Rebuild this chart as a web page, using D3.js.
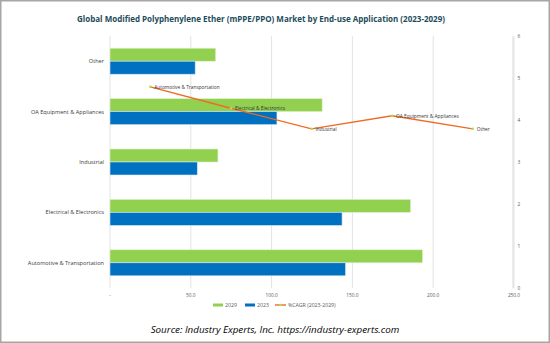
<!DOCTYPE html>
<html>
<head>
<meta charset="utf-8">
<script src="https://cdn.jsdelivr.net/npm/d3@7"></script>
<style>
  body { margin: 0; background: #fff; }
  svg text { font-family: "Open Sans", "Liberation Sans", sans-serif; }
</style>
</head>
<body>
<div id="chart"></div>
<script>
// market size by end-use application, two years, plus CAGR on a second axis
var categories = ["Automotive & Transportation", "Electrical & Electronics", "Industrial", "OA Equipment & Appliances", "Other"];
var values2029 = [193.4, 186.0, 66.8, 131.3, 65.4];
var values2023 = [145.7, 143.6, 54.0, 103.3, 52.7];
var cagr = [4.79, 4.28, 3.79, 4.10, 3.79];
var xTicks = [0, 50, 100, 150, 200, 250];
var yTicksRight = [0, 1, 2, 3, 4, 5, 6];

var width = 550, height = 343;
var margin = {top: 36, right: 37, bottom: 55, left: 110};
var innerW = width - margin.left - margin.right;
var innerH = height - margin.top - margin.bottom;

var svg = d3.select("#chart").append("svg")
  .attr("width", width)
  .attr("height", height);

// outer frame
svg.append("rect")
  .attr("x", 0.75).attr("y", 0.75)
  .attr("width", width - 1.5).attr("height", height - 1.5)
  .attr("fill", "#fff")
  .attr("stroke", "#a6a6a6")
  .attr("stroke-width", 1.5);

svg.append("text")
  .attr("x", 261).attr("y", 22)
  .attr("text-anchor", "middle")
  .attr("font-size", 8)
  .attr("font-weight", "bold")
  .attr("fill", "#234c5a")
  .text("Global Modified Polyphenylene Ether (mPPE/PPO) Market by End-use Application (2023-2029)");

var g = svg.append("g").attr("transform", "translate(" + margin.left + "," + margin.top + ")");

var x = d3.scaleLinear().domain([0, 250]).range([0, 404]);
// bottom category first, so reverse the band order
var y = d3.scaleBand().domain(categories.slice().reverse()).range([0, innerH]);
var yRight = d3.scaleLinear().domain([0, 6]).range([innerH, 0]);
var xCat = d3.scaleBand().domain(categories).range([0, innerW]);

// vertical gridlines
g.selectAll(".grid")
  .data(xTicks)
  .enter()
  .append("line")
  .attr("class", "grid")
  .attr("x1", d => x(d)).attr("x2", d => x(d))
  .attr("y1", 0).attr("y2", innerH)
  .attr("stroke", "#e3e3e3")
  .attr("stroke-width", 1);

// bottom axis labels
g.selectAll(".xlab")
  .data(xTicks)
  .enter()
  .append("text")
  .attr("class", "xlab")
  .attr("x", d => x(d))
  .attr("y", innerH + 9)
  .attr("text-anchor", "middle")
  .attr("font-size", 4.8)
  .attr("fill", "#595959")
  .text(d => d === 0 ? "-" : d3.format(".1f")(d));

// right axis
var rightAxis = g.append("g")
  .attr("transform", "translate(" + (innerW - 0.5) + ",0)")
  .call(d3.axisRight(yRight).tickValues(yTicksRight).tickSize(0).tickPadding(5).tickFormat(d3.format("d")));
rightAxis.select(".domain").attr("stroke", "#d9d9d9");
rightAxis.selectAll("text").attr("font-size", 4.8).attr("fill", "#595959");

// category labels
g.selectAll(".catlab")
  .data(categories)
  .enter()
  .append("text")
  .attr("class", "catlab")
  .attr("x", -6)
  .attr("y", d => y(d) + y.bandwidth() / 2 + 2)
  .attr("text-anchor", "end")
  .attr("font-size", 5.6)
  .attr("fill", "#3a3a3a")
  .text(d => d);

var barH = 13;
var rows = categories.map((c, i) => ({cat: c, v29: values2029[i], v23: values2023[i], cagr: cagr[i]}));

g.selectAll(".bar29")
  .data(rows)
  .enter()
  .append("rect")
  .attr("class", "bar29")
  .attr("x", x(0))
  .attr("y", d => y(d.cat) + y.bandwidth() / 2 - barH)
  .attr("width", d => x(d.v29) - x(0))
  .attr("height", barH)
  .attr("fill", "#92d050")
  .attr("stroke", "#e2f1d4")
  .attr("stroke-width", 0.6);

g.selectAll(".bar23")
  .data(rows)
  .enter()
  .append("rect")
  .attr("class", "bar23")
  .attr("x", x(0))
  .attr("y", d => y(d.cat) + y.bandwidth() / 2)
  .attr("width", d => x(d.v23) - x(0))
  .attr("height", barH)
  .attr("fill", "#0070c0")
  .attr("stroke", "#cfe3f2")
  .attr("stroke-width", 0.6);

// CAGR line over a hidden category axis
var line = d3.line()
  .x(d => xCat(d.cat) + xCat.bandwidth() / 2)
  .y(d => yRight(d.cagr));

g.append("path")
  .datum(rows)
  .attr("d", line)
  .attr("fill", "none")
  .attr("stroke", "#f06a22")
  .attr("stroke-width", 1.4);

g.selectAll(".pt")
  .data(rows)
  .enter()
  .append("circle")
  .attr("class", "pt")
  .attr("cx", d => xCat(d.cat) + xCat.bandwidth() / 2)
  .attr("cy", d => yRight(d.cagr))
  .attr("r", 1.3)
  .attr("fill", "#b5d75a");

g.selectAll(".ptlab")
  .data(rows)
  .enter()
  .append("text")
  .attr("class", "ptlab")
  .attr("x", d => xCat(d.cat) + xCat.bandwidth() / 2 + 4)
  .attr("y", d => yRight(d.cagr) + 1.8)
  .attr("font-size", 4.8)
  .attr("fill", "#333")
  .text(d => d.cat);

// legend
var legend = svg.append("g").attr("transform", "translate(0,305)");
legend.append("rect").attr("x", 213).attr("y", -1.5).attr("width", 10).attr("height", 3).attr("fill", "#92d050");
legend.append("text").attr("x", 225).attr("y", 2).attr("font-size", 5.2).attr("fill", "#595959").text("2029");
legend.append("rect").attr("x", 245).attr("y", -1.5).attr("width", 10).attr("height", 3).attr("fill", "#0070c0");
legend.append("text").attr("x", 257).attr("y", 2).attr("font-size", 5.2).attr("fill", "#595959").text("2023");
legend.append("line").attr("x1", 275).attr("x2", 286).attr("y1", 0).attr("y2", 0).attr("stroke", "#f06a22").attr("stroke-width", 1.4);
legend.append("circle").attr("cx", 280.5).attr("cy", 0).attr("r", 1.3).attr("fill", "#b5d75a");
legend.append("text").attr("x", 288).attr("y", 2).attr("font-size", 5.2).attr("fill", "#595959").text("%CAGR (2023-2029)");

svg.append("text")
  .attr("x", 275).attr("y", 333)
  .attr("text-anchor", "middle")
  .attr("font-size", 9.8)
  .attr("font-style", "italic")
  .attr("fill", "#000")
  .text("Source: Industry Experts, Inc. https://industry-experts.com");
</script>
</body>
</html>
